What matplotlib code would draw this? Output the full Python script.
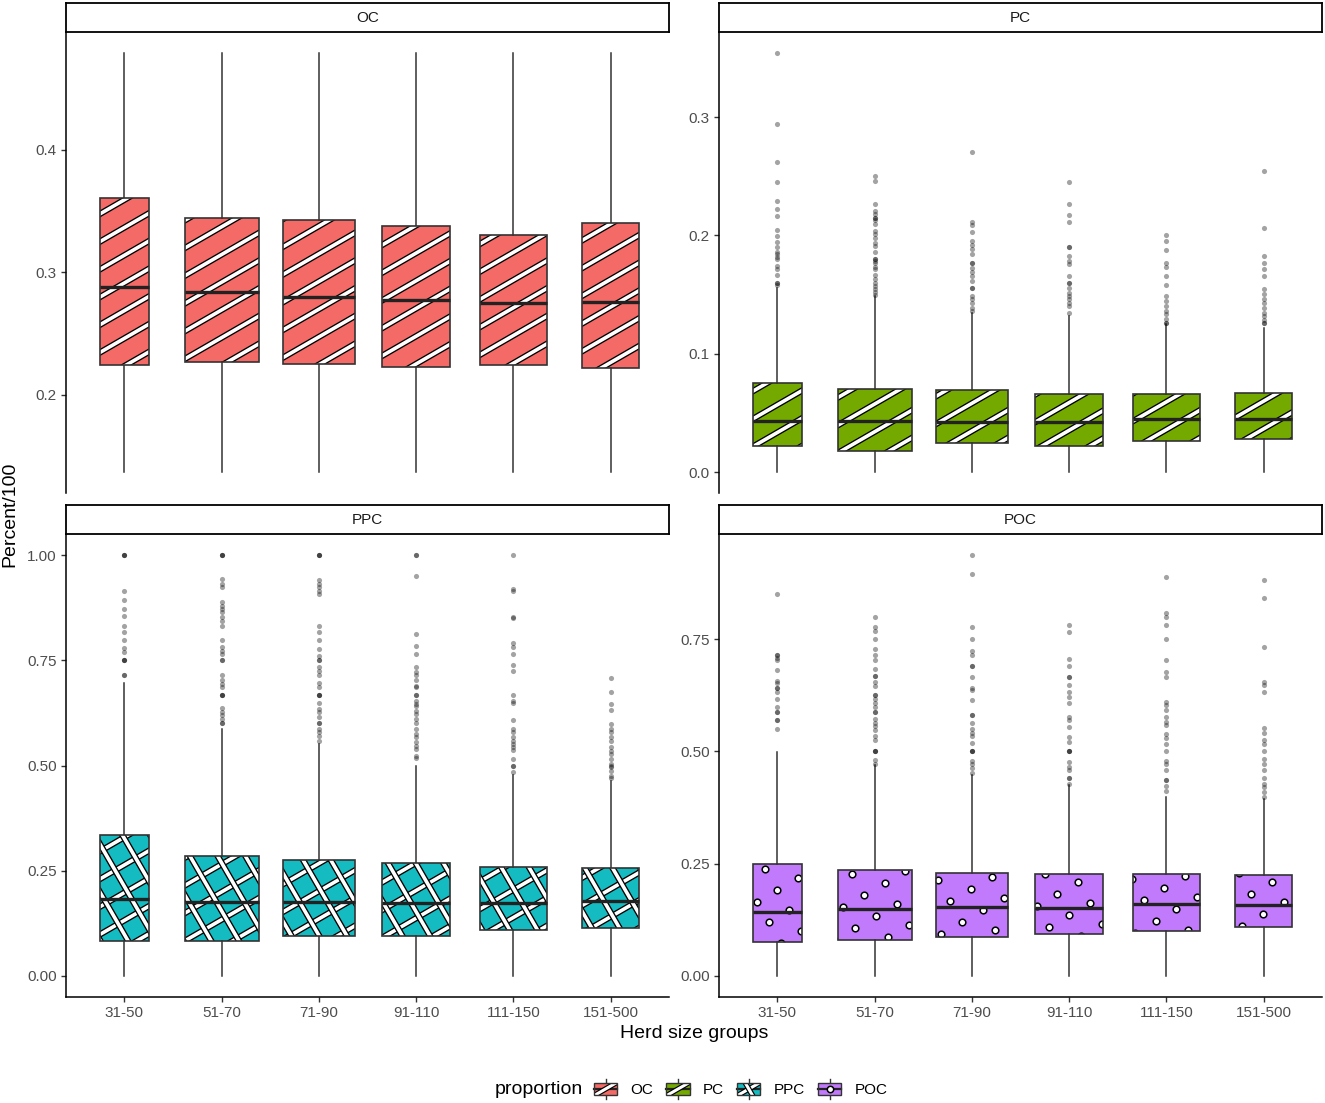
import numpy as np
import matplotlib
matplotlib.use("Agg")
import matplotlib.pyplot as plt
from matplotlib.lines import Line2D
from matplotlib.patches import Rectangle, PathPatch
from matplotlib.transforms import IdentityTransform
import matplotlib.patheffects as pe
from matplotlib.legend_handler import HandlerBase

plt.rcParams['font.family'] = ['Liberation Sans', 'DejaVu Sans']

# ---------------- data ----------------
groups = ["31-50", "51-70", "71-90", "91-110", "111-150", "151-500"]
group_n = [44, 100, 96, 85, 83, 58]          # relative herd counts (varwidth)
proportions = ["OC", "PC", "PPC", "POC"]

oc_q1 = [0.2240, 0.2270, 0.2255, 0.2224, 0.2241, 0.2216]
oc_med = [0.2878, 0.2839, 0.2798, 0.2771, 0.2747, 0.2755]
oc_q3 = [0.3604, 0.3443, 0.3424, 0.3376, 0.3302, 0.3400]
oc_lo = [0.137, 0.137, 0.137, 0.137, 0.137, 0.137]
oc_hi = [0.479, 0.479, 0.479, 0.479, 0.479, 0.479]
oc_out = [[], [], [], [], [], []]

pc_q1 = [0.0219, 0.0182, 0.0244, 0.0219, 0.0261, 0.0280]
pc_med = [0.0432, 0.0432, 0.0426, 0.0421, 0.0449, 0.0449]
pc_q3 = [0.0752, 0.0702, 0.0693, 0.0660, 0.0660, 0.0666]
pc_lo = [0.0, 0.0, 0.0, 0.0, 0.0, 0.0]
pc_hi = [0.156, 0.1488, 0.1348, 0.132, 0.125, 0.1216]
pc_out = [
    [0.3543, 0.2943, 0.262, 0.2449, 0.229, 0.2228, 0.2163, 0.205, 0.1994, 0.1949,
     0.1904, 0.186, 0.184, 0.1817, 0.1803, 0.1741, 0.1713, 0.1666, 0.1601, 0.1579, 0.1601],
    [0.25, 0.246, 0.2268, 0.2206, 0.2178, 0.2145, 0.2145, 0.2131, 0.2094, 0.2038, 0.201,
     0.1976, 0.194, 0.1912, 0.186, 0.18, 0.18, 0.1785, 0.1771, 0.1737, 0.1715, 0.1664,
     0.163, 0.1601, 0.1574, 0.1546, 0.1518, 0.1495],
    [0.2706, 0.2117, 0.2086, 0.2029, 0.1954, 0.1917, 0.1884, 0.184, 0.1771, 0.1771,
     0.1729, 0.1692, 0.1659, 0.1617, 0.156, 0.156, 0.1489, 0.1461, 0.1428, 0.1391, 0.1363],
    [0.2449, 0.2263, 0.2171, 0.2115, 0.1904, 0.1904, 0.1826, 0.1783, 0.1755, 0.1657,
     0.1601, 0.1601, 0.1559, 0.1516, 0.1488, 0.146, 0.1432, 0.1404, 0.1348],
    [0.2002, 0.1957, 0.1876, 0.1769, 0.1735, 0.1657, 0.1581, 0.1488, 0.1446, 0.1404,
     0.1362, 0.1334, 0.1297, 0.1264, 0.1264],
    [0.2541, 0.2061, 0.1826, 0.1769, 0.1719, 0.1657, 0.155, 0.1502, 0.1466, 0.1432,
     0.139, 0.1348, 0.132, 0.1286, 0.1258, 0.1258],
]

ppc_q1 = [0.0819, 0.0819, 0.0945, 0.0960, 0.1096, 0.1135]
ppc_med = [0.182, 0.175, 0.175, 0.173, 0.173, 0.177]
ppc_q3 = [0.334, 0.2853, 0.2765, 0.2678, 0.260, 0.256]
ppc_lo = [0.0, 0.0, 0.0, 0.0, 0.0, 0.0]
ppc_hi = [0.697, 0.587, 0.551, 0.498, 0.478, 0.462]
ppc_out = [
    [1.0, 1.0, 1.0, 0.915, 0.893, 0.873, 0.855, 0.832, 0.818, 0.798, 0.778, 0.769,
     0.75, 0.75, 0.75, 0.714, 0.714],
    [1.0, 1.0, 1.0, 0.943, 0.931, 0.923, 0.888, 0.880, 0.873, 0.864, 0.852, 0.844, 0.832,
     0.798, 0.781, 0.773, 0.765, 0.75, 0.75, 0.714, 0.702, 0.694, 0.686, 0.6667, 0.6667,
     0.6667, 0.636, 0.627, 0.619, 0.611, 0.60, 0.60],
    [1.0, 1.0, 1.0, 0.941, 0.931, 0.923, 0.915, 0.907, 0.832, 0.816, 0.798, 0.777, 0.761,
     0.75, 0.75, 0.735, 0.724, 0.716, 0.695, 0.686, 0.6667, 0.6667, 0.6667, 0.648, 0.635,
     0.627, 0.615, 0.60, 0.60, 0.587, 0.579, 0.569, 0.559],
    [1.0, 1.0, 0.951, 0.812, 0.785, 0.766, 0.735, 0.723, 0.714, 0.702, 0.690, 0.686,
     0.6667, 0.6667, 0.654, 0.646, 0.642, 0.630, 0.622, 0.611, 0.60, 0.587, 0.575,
     0.567, 0.555, 0.547, 0.539, 0.523, 0.518],
    [1.0, 0.920, 0.915, 0.853, 0.850, 0.792, 0.782, 0.765, 0.739, 0.725, 0.6667, 0.654,
     0.648, 0.609, 0.587, 0.579, 0.567, 0.559, 0.551, 0.544, 0.536, 0.515, 0.50, 0.50,
     0.484],
    [0.709, 0.675, 0.645, 0.632, 0.598, 0.587, 0.579, 0.567, 0.559, 0.543, 0.535, 0.527,
     0.515, 0.503, 0.50, 0.496, 0.488, 0.476, 0.470],
]

poc_q1 = [0.075, 0.080, 0.086, 0.093, 0.101, 0.110]
poc_med = [0.1435, 0.1495, 0.153, 0.151, 0.161, 0.159]
poc_q3 = [0.250, 0.235, 0.230, 0.226, 0.226, 0.2255]
poc_lo = [0.0, 0.0, 0.0, 0.0, 0.0, 0.0]
poc_hi = [0.499, 0.469, 0.447, 0.425, 0.399, 0.395]
poc_out = [
    [0.850, 0.715, 0.715, 0.708, 0.703, 0.682, 0.658, 0.653, 0.641, 0.641, 0.632, 0.616,
     0.599, 0.587, 0.587, 0.571, 0.571, 0.549],
    [0.799, 0.778, 0.769, 0.750, 0.728, 0.715, 0.704, 0.684, 0.667, 0.667, 0.654, 0.645,
     0.626, 0.626, 0.617, 0.609, 0.600, 0.587, 0.587, 0.572, 0.563, 0.556, 0.547, 0.534,
     0.526, 0.50, 0.50, 0.50, 0.481, 0.472],
    [0.9375, 0.895, 0.778, 0.750, 0.723, 0.715, 0.690, 0.690, 0.666, 0.642, 0.637, 0.614,
     0.581, 0.581, 0.564, 0.551, 0.541, 0.534, 0.519, 0.50, 0.50, 0.50, 0.479, 0.472,
     0.464, 0.451],
    [0.781, 0.765, 0.706, 0.691, 0.666, 0.666, 0.648, 0.633, 0.622, 0.608, 0.577, 0.570,
     0.555, 0.533, 0.521, 0.50, 0.50, 0.50, 0.477, 0.466, 0.459, 0.442, 0.442, 0.428],
    [0.889, 0.809, 0.799, 0.782, 0.750, 0.704, 0.676, 0.666, 0.611, 0.603, 0.592, 0.577,
     0.566, 0.558, 0.540, 0.529, 0.516, 0.50, 0.479, 0.472, 0.459, 0.437, 0.437, 0.422,
     0.413],
    [0.881, 0.842, 0.732, 0.655, 0.648, 0.633, 0.552, 0.541, 0.526, 0.517, 0.50, 0.484,
     0.472, 0.459, 0.442, 0.428, 0.420, 0.410, 0.399],
]

oc_ticks = [0.2, 0.3, 0.4]
oc_ticklabels = ["0.2", "0.3", "0.4"]
pc_ticks = [0.0, 0.1, 0.2, 0.3]
pc_ticklabels = ["0.0", "0.1", "0.2", "0.3"]
ppc_ticks = [0.0, 0.25, 0.5, 0.75, 1.0]
ppc_ticklabels = ["0.00", "0.25", "0.50", "0.75", "1.00"]
poc_ticks = [0.0, 0.25, 0.5, 0.75]
poc_ticklabels = ["0.00", "0.25", "0.50", "0.75"]

# ---------------- styling ----------------
fill_colors = {"OC": "#F46A66", "PC": "#74AA00", "PPC": "#14BBC0", "POC": "#C17AFB"}
pattern_kind = {"OC": "stripe", "PC": "stripe", "PPC": "crosshatch", "POC": "circle"}
EDGE = "#333333"
W, H = 1325, 1103
DPI = 100
SP = 24.0          # pattern spacing in pixels
ANG = 30.0         # pattern angle in degrees

fig = plt.figure(figsize=(W / DPI, H / DPI), dpi=DPI)
fig.patch.set_facecolor("white")


def px_axes(x0, y0, x1, y1):
    return fig.add_axes([x0 / W, 1 - y1 / H, (x1 - x0) / W, (y1 - y0) / H])


def stripe_lines(ax, box, angle, zorder):
    bb = box.get_window_extent()
    a = np.deg2rad(angle)
    d = np.array([np.cos(a), np.sin(a)])
    n = np.array([-np.sin(a), np.cos(a)])
    corners = np.array([[bb.x0, bb.y0], [bb.x1, bb.y0], [bb.x0, bb.y1], [bb.x1, bb.y1]])
    proj = corners @ n
    ctr = corners.mean(axis=0)
    L = np.hypot(bb.width, bb.height) + 10
    for k in range(int(np.floor(proj.min() / SP)) - 1, int(np.ceil(proj.max() / SP)) + 2):
        base = n * (k * SP)
        c = base + d * ((ctr - base) @ d)
        p0, p1 = c - d * L, c + d * L
        ln = Line2D([p0[0], p1[0]], [p0[1], p1[1]], transform=IdentityTransform(),
                    color="white", lw=2.6, solid_capstyle="butt", zorder=zorder,
                    path_effects=[pe.Stroke(linewidth=4.5, foreground="black"), pe.Normal()])
        ln.set_clip_path(box)
        ax.add_artist(ln)


def circle_points(ax, box, zorder):
    bb = box.get_window_extent()
    a = np.deg2rad(ANG)
    d = np.array([np.cos(a), np.sin(a)])
    n = np.array([-np.sin(a), np.cos(a)])
    corners = np.array([[bb.x0, bb.y0], [bb.x1, bb.y0], [bb.x0, bb.y1], [bb.x1, bb.y1]])
    pd_, pn_ = corners @ d, corners @ n
    xs, ys = [], []
    for i in range(int(np.floor(pd_.min() / SP)) - 1, int(np.ceil(pd_.max() / SP)) + 2):
        for j in range(int(np.floor(pn_.min() / SP)) - 1, int(np.ceil(pn_.max() / SP)) + 2):
            p = d * (i * SP + SP / 2) + n * (j * SP + SP / 2)
            if bb.x0 - 4 <= p[0] <= bb.x1 + 4 and bb.y0 - 4 <= p[1] <= bb.y1 + 4:
                xs.append(p[0]); ys.append(p[1])
    ln = Line2D(xs, ys, transform=IdentityTransform(), ls="none", marker="o",
                markersize=4.8, markerfacecolor="white", markeredgecolor="black",
                markeredgewidth=1.1, zorder=zorder)
    ln.set_clip_path(box)
    ax.add_artist(ln)


panel_data = {
    "OC": (oc_q1, oc_med, oc_q3, oc_lo, oc_hi, oc_out, oc_ticks, oc_ticklabels),
    "PC": (pc_q1, pc_med, pc_q3, pc_lo, pc_hi, pc_out, pc_ticks, pc_ticklabels),
    "PPC": (ppc_q1, ppc_med, ppc_q3, ppc_lo, ppc_hi, ppc_out, ppc_ticks, ppc_ticklabels),
    "POC": (poc_q1, poc_med, poc_q3, poc_lo, poc_hi, poc_out, poc_ticks, poc_ticklabels),
}

panel_px = {
    "OC": (66, 32, 669, 493),
    "PC": (719, 32, 1322, 493),
    "PPC": (66, 534, 669, 997),
    "POC": (719, 534, 1322, 997),
}
strip_h = 29

widths = 0.76 * np.sqrt(np.array(group_n, dtype=float) / max(group_n))
positions = np.arange(1, len(groups) + 1)

for name in proportions:
    q1, med, q3, lo, hi, out, ticks, ticklabels = panel_data[name]
    x0, y0, x1, y1 = panel_px[name]
    ax = px_axes(x0, y0, x1, y1)
    stats = [dict(med=med[i], q1=q1[i], q3=q3[i], whislo=lo[i], whishi=hi[i],
                  fliers=out[i], label=groups[i]) for i in range(len(groups))]
    res = ax.bxp(stats, positions=positions, widths=widths, patch_artist=True,
                 showcaps=False, showfliers=True,
                 boxprops=dict(facecolor=fill_colors[name], edgecolor="none", linewidth=0),
                 whiskerprops=dict(color=EDGE, linewidth=1.1),
                 medianprops=dict(color="#222222", linewidth=2.4, solid_capstyle="butt", zorder=2.4),
                 flierprops=dict(marker="o", markerfacecolor="black", markeredgecolor="none",
                                 markersize=3.7, alpha=0.36))
    ax.set_xlim(0.4, len(groups) + 0.6)
    ax.margins(y=0.05)
    ax.set_ylim(ax.get_ylim())
    ax.set_autoscale_on(False)
    for box in res["boxes"]:
        kind = pattern_kind[name]
        if kind == "stripe":
            stripe_lines(ax, box, ANG, 2.1)
        elif kind == "crosshatch":
            stripe_lines(ax, box, ANG, 2.1)
            stripe_lines(ax, box, ANG + 90, 2.15)
        else:
            circle_points(ax, box, 2.1)
        outline = PathPatch(box.get_path(), transform=box.get_transform(), fill=False,
                            edgecolor=EDGE, linewidth=1.2, zorder=2.3)
        ax.add_patch(outline)

    ax.set_yticks(ticks)
    ax.set_yticklabels(ticklabels)
    for s in ["top", "right"]:
        ax.spines[s].set_visible(False)
    ax.spines["left"].set_linewidth(1.1)
    ax.spines["bottom"].set_linewidth(1.1)
    ax.tick_params(axis="both", length=3.5, width=1.0, color=EDGE, labelsize=11,
                   labelcolor="#4D4D4D", pad=3)
    if name in ("OC", "PC"):
        ax.spines["bottom"].set_visible(False)
        ax.set_xticks([])
    else:
        ax.set_xticks(positions)
        ax.set_xticklabels(groups)
    ax.set_facecolor("white")

    # facet strip
    sax = px_axes(x0, y0 - strip_h, x1, y0)
    sax.set_xticks([]); sax.set_yticks([])
    for s in sax.spines.values():
        s.set_linewidth(1.3)
        s.set_color("black")
    sax.text(0.5, 0.5, name, ha="center", va="center", fontsize=11, color="#1A1A1A",
             transform=sax.transAxes)

fig.text(10 / W, 1 - 514.5 / H, "Percent/100", rotation=90, ha="center", va="center",
         fontsize=14, color="black")
fig.text(694 / W, 1 - 1033 / H, "Herd size groups", ha="center", va="center",
         fontsize=14, color="black")


# ---------------- legend ----------------
class BoxKey(HandlerBase):
    def __init__(self, fc, kind):
        super().__init__()
        self.fc = fc
        self.kind = kind

    def create_artists(self, legend, orig_handle, xdescent, ydescent, width, height,
                       fontsize, trans):
        x0, y0 = -xdescent, -ydescent
        bx0, bx1 = x0 + 0.1 * width, x0 + 0.9 * width
        by0, by1 = y0 + 0.25 * height, y0 + 0.75 * height
        xm, ym = x0 + 0.5 * width, y0 + 0.5 * height
        arts = []
        arts.append(Line2D([xm, xm], [y0 + 0.1 * height, by0], color=EDGE, lw=1.0))
        arts.append(Line2D([xm, xm], [by1, y0 + 0.9 * height], color=EDGE, lw=1.0))
        rect = Rectangle((bx0, by0), bx1 - bx0, by1 - by0, facecolor=self.fc,
                         edgecolor="none")
        arts.append(rect)
        arts.append(Line2D([bx0, bx1], [ym, ym], color="#222222", lw=1.6))
        pat = []
        if self.kind in ("stripe", "crosshatch"):
            angs = [ANG] if self.kind == "stripe" else [ANG, ANG + 90]
            for ag in angs:
                a = np.deg2rad(ag)
                Lk = width
                pat.append(Line2D([xm - Lk * np.cos(a), xm + Lk * np.cos(a)],
                                  [ym - Lk * np.sin(a), ym + Lk * np.sin(a)],
                                  color="white", lw=2.2, solid_capstyle="butt",
                                  path_effects=[pe.Stroke(linewidth=3.9, foreground="black"),
                                                pe.Normal()]))
        else:
            pat.append(Line2D([xm], [ym], ls="none", marker="o", markersize=4.6,
                              markerfacecolor="white", markeredgecolor="black",
                              markeredgewidth=1.1))
        arts.extend(pat)
        outline = Rectangle((bx0, by0), bx1 - bx0, by1 - by0, fill=False,
                            edgecolor=EDGE, lw=1.0)
        arts.append(outline)
        for a_ in arts:
            a_.set_transform(trans)
        for p in pat:
            p.set_clip_path(rect)
        return arts


handles = [Rectangle((0, 0), 1, 1) for _ in proportions]
hmap = {h: BoxKey(fill_colors[p], pattern_kind[p]) for h, p in zip(handles, proportions)}
leg = fig.legend(handles, proportions, handler_map=hmap, loc="center left",
                 bbox_to_anchor=(591 / W, 1 - 1089 / H), ncol=4, frameon=False,
                 fontsize=11, handlelength=1.9, handleheight=2.2, handletextpad=0.7,
                 columnspacing=0.65, borderpad=0, borderaxespad=0)
for t in leg.get_texts():
    t.set_color("black")
fig.text(583 / W, 1 - 1089 / H, "proportion", ha="right", va="center", fontsize=14,
         color="black")

fig.savefig("out.png", dpi=DPI, facecolor="white")
